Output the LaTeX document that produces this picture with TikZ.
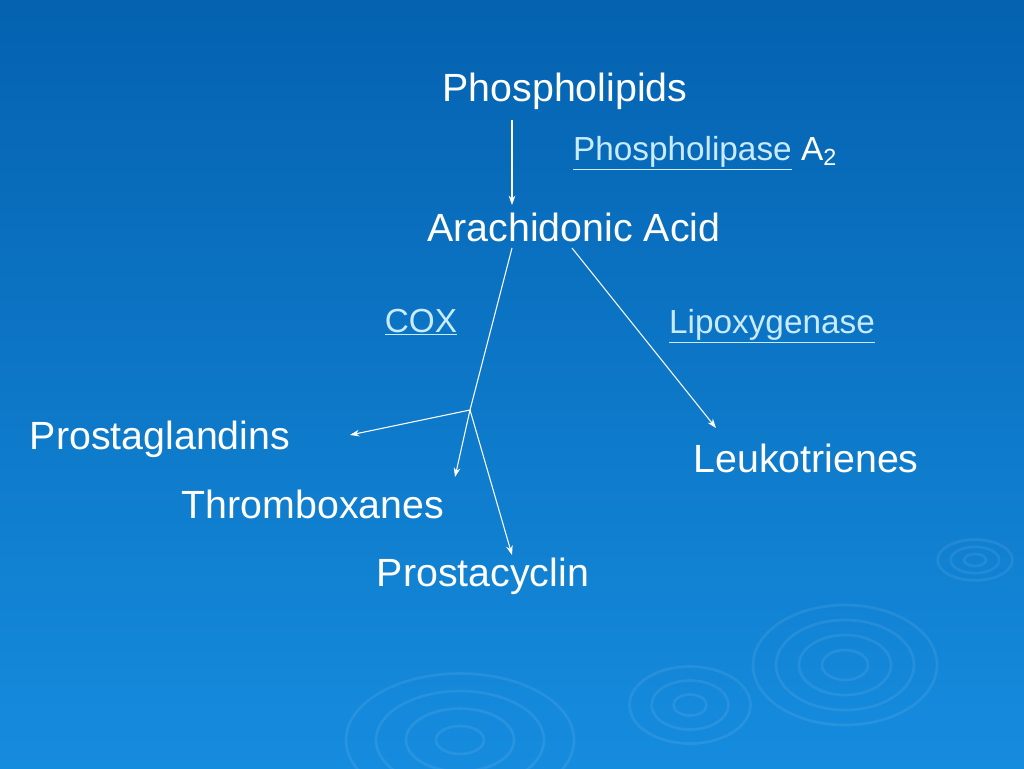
\documentclass[tikz,border=0pt]{standalone}
\usepackage{fontspec}
\setmainfont{Liberation Sans}
\usetikzlibrary{arrows.meta}
\definecolor{bgtop}{RGB}{4,98,176}
\definecolor{bgbot}{RGB}{22,140,222}
\definecolor{linkc}{RGB}{200,235,255}
\tikzset{
 lbl/.style={text=white,font=\fontsize{29.5}{34}\selectfont,inner sep=0pt},
 enz/.style={text=linkc,font=\fontsize{25}{30}\selectfont,inner sep=0pt},
 arr/.style={draw=white,line width=0.8pt,-{Stealth[length=7pt,width=5pt]}},
 ln/.style={draw=white,line width=0.8pt},
 rip/.style={draw=white,draw opacity=0.08,line width=2pt}
}
\begin{document}
\begin{tikzpicture}[x=0.75pt,y=-0.75pt]
\shade[top color=bgtop,bottom color=bgbot] (0,0) rectangle (1024,768);
\useasboundingbox (0,0) rectangle (1024,768);
% ripples
\foreach \r in {20,40,60,80}{\draw[rip] (845,665) ellipse ({\r*1.15} and {\r*0.75});}
\foreach \r in {10,22,34}{\draw[rip] (975,560) ellipse ({\r*1.1} and {\r*0.6});}
\foreach \r in {15,35,55}{\draw[rip] (690,705) ellipse ({\r*1.1} and {\r*0.7});}
\foreach \r in {20,45,70,95}{\draw[rip] (460,740) ellipse ({\r*1.2} and {\r*0.7});}
\node[lbl] (pl) at (565,91) {Phospholipids};
\node[enz] (pla) at (705,153) {\underline{Phospholipase}\textcolor{white}{\ A\textsubscript{2}}};
\node[lbl] (aa) at (574,227) {Arachidonic Acid};
\node[enz] (cox) at (421,322) {\underline{COX}};
\node[enz] (lox) at (772,326) {\underline{Lipoxygenase}};
\node[lbl] (pg) at (160,439) {Prostaglandins};
\node[lbl] (tx) at (313,504) {Thromboxanes};
\node[lbl] (lt) at (806,458) {Leukotrienes};
\node[lbl] (pc) at (483,576) {Prostacyclin};
\coordinate (a1) at (512,120);
\coordinate (a2) at (512,205);
\coordinate (b1) at (512,248);
\coordinate (j) at (470,410);
\coordinate (pge) at (350,435);
\coordinate (txe) at (455,477);
\coordinate (pce) at (512,555);
\coordinate (c1) at (572,248);
\coordinate (lte) at (716,428);
\draw[arr] (a1) -- (a2);
\draw[ln] (b1) -- (j);
\draw[arr] (j) -- (pge);
\draw[arr] (j) -- (txe);
\draw[arr] (j) -- (pce);
\draw[arr] (c1) -- (lte);
\end{tikzpicture}
\end{document}
